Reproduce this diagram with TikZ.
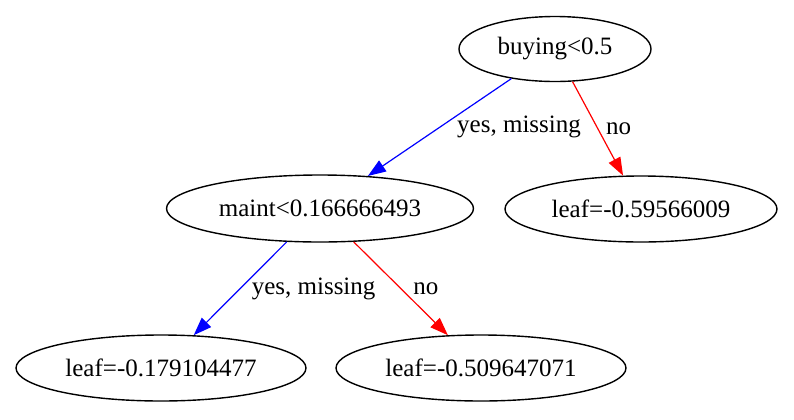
\documentclass[tikz,border=0pt]{standalone}
\usepackage{fontspec}
\setmainfont{Liberation Serif}
\usetikzlibrary{arrows.meta,shapes.geometric}

\begin{document}
\begin{tikzpicture}[x=0.5pt, y=-0.5pt,
	every node/.style={font=\fontsize{12.5}{15}\selectfont},
	split/.style={ellipse, draw, line width=0.7pt, inner sep=0pt},
	yesedge/.style={-{Triangle[length=9pt, width=6.5pt]}, blue, line width=0.6pt},
	noedge/.style={-{Triangle[length=9pt, width=6.5pt]}, red, line width=0.6pt},
	lbl/.style={midway, anchor=west, inner sep=0pt, text=black}]
	\useasboundingbox (0,0) rectangle (794,419);
	\node[split, minimum width=96pt, minimum height=32.5pt] (buying) at (555,49) {buying<0.5};
	\node[split, minimum width=153.5pt, minimum height=33.5pt] (maint) at (320,208.5) {maint<0.166666493};
	\node[split, minimum width=136pt, minimum height=33pt] (leafA) at (641,209) {leaf=-0.59566009};
	\node[split, minimum width=145pt, minimum height=33pt] (leafB) at (161,368) {leaf=-0.179104477};
	\node[split, minimum width=145pt, minimum height=33pt] (leafC) at (481,368) {leaf=-0.509647071};
	\draw[yesedge] (buying) -- (maint) node[lbl, xshift=8.5pt] {yes, missing};
	\draw[noedge] (buying) -- (leafA) node[lbl, xshift=3.8pt] {no};
	\draw[yesedge] (maint) -- (leafB) node[lbl, xshift=5.5pt] {yes, missing};
	\draw[noedge] (maint) -- (leafC) node[lbl, xshift=6pt] {no};
\end{tikzpicture}
\end{document}
